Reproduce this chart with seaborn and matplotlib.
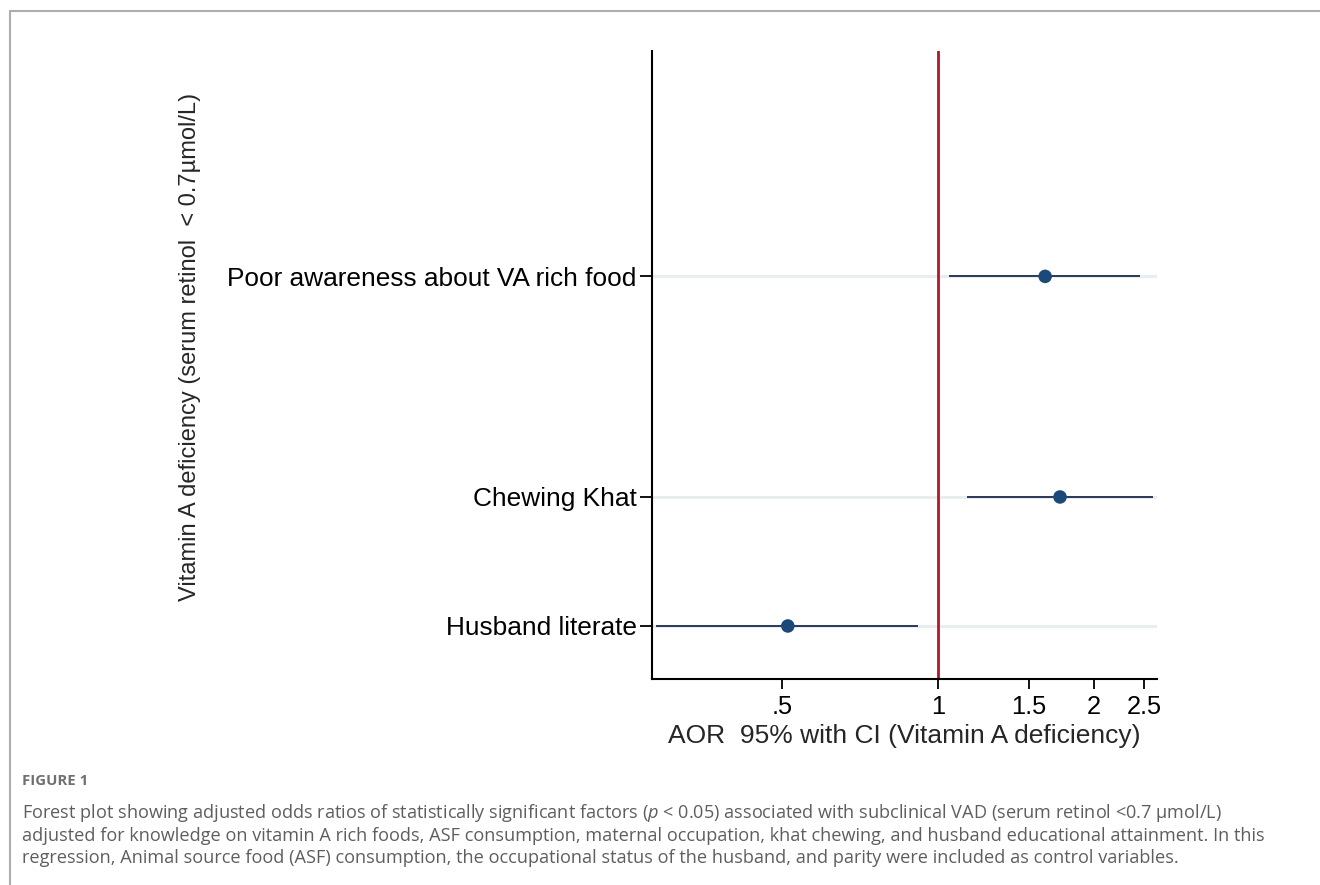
import numpy as np
import pandas as pd
import matplotlib
matplotlib.use("Agg")
import matplotlib.pyplot as plt
from matplotlib.lines import Line2D
from matplotlib.ticker import FixedLocator, FixedFormatter, NullLocator
import seaborn as sns

# ---- data ----
factors = ["Poor awareness about VA rich food", "Chewing Khat", "Husband literate"]
aor = [1.61, 1.72, 0.513]
ci_low = [1.05, 1.14, 0.286]
ci_high = [2.45, 2.60, 0.915]
row_pos = [3.71, 2.0, 1.0]
xticks = [0.5, 1, 1.5, 2, 2.5]
xtick_labels = [".5", "1", "1.5", "2", "2.5"]

df = pd.DataFrame(dict(factor=factors, aor=aor, lo=ci_low, hi=ci_high, pos=row_pos))

sns.set_style("white")
plt.rcParams["font.family"] = ["Liberation Sans", "DejaVu Sans"]
plt.rcParams["mathtext.fontset"] = "custom"
plt.rcParams["mathtext.it"] = "Open Sans:italic"
plt.rcParams["mathtext.rm"] = "Open Sans"

W, H = 1320, 885
fig = plt.figure(figsize=(W / 100, H / 100), dpi=100)
ax = fig.add_axes([652 / W, 1 - 679 / H, 505 / W, 628 / H])
ax.set_xscale("log")
ax.set_xlim(0.2805, 2.647)
ax.set_ylim(0.589, 5.457)

for p in df["pos"]:
    ax.axhline(p, color="#e8eef0", lw=2.2, zorder=0)
ax.axvline(1, color="#b5142b", lw=2, zorder=1)
ax.hlines(df["pos"], df["lo"], df["hi"], color="#1c2b4e", lw=1.3, zorder=2)
sns.scatterplot(data=df, x="aor", y="pos", ax=ax, s=95, color="#1b4a7a",
                edgecolor="none", zorder=3, legend=False)

ax.xaxis.set_major_locator(FixedLocator(xticks))
ax.xaxis.set_major_formatter(FixedFormatter(xtick_labels))
ax.xaxis.set_minor_locator(NullLocator())
ax.set_yticks(df["pos"])
ax.set_yticklabels(df["factor"])

for s in ["top", "right"]:
    ax.spines[s].set_visible(False)
for s in ["left", "bottom"]:
    ax.spines[s].set_color("black")
    ax.spines[s].set_linewidth(1.5)

ax.tick_params(axis="y", left=True, length=9, width=1.3, pad=2, labelsize=18.9,
               color="black", labelcolor="black")
ax.tick_params(axis="x", bottom=True, length=7.5, width=1.3, pad=4, labelsize=18.3,
               color="black", labelcolor="black")

ax.set_xlabel("AOR  95% with CI (Vitamin A deficiency)", fontsize=19, labelpad=3.5)
ax.set_ylabel("Vitamin A deficiency (serum retinol  < 0.7µmol/L)", fontsize=17)
ax.yaxis.set_label_coords(-0.893, 0.529)

# figure frame (journal box)
fig.add_artist(Line2D([10 / W, 1], [1 - 11 / H, 1 - 11 / H], color="#adadad", lw=1.5))
fig.add_artist(Line2D([10 / W, 10 / W], [0, 1 - 11 / H], color="#adadad", lw=1.5))

# caption
fig.text(22 / W, 1 - 781 / H, "FIGURE 1", fontsize=10.8, color="#707070",
         fontweight="bold", family=["Open Sans", "DejaVu Sans"], va="center")
cap_lines = [
    "Forest plot showing adjusted odds ratios of statistically significant factors ($p$ < 0.05) associated with subclinical VAD (serum retinol <0.7 μmol/L)",
    "adjusted for knowledge on vitamin A rich foods, ASF consumption, maternal occupation, khat chewing, and husband educational attainment. In this",
    "regression, Animal source food (ASF) consumption, the occupational status of the husband, and parity were included as control variables.",
]
for yy, t in zip([813, 836, 858], cap_lines):
    fig.text(22 / W, 1 - yy / H, t, fontsize=13.1, color="#5e5e5e",
             family=["Open Sans", "DejaVu Sans"], va="center")

fig.savefig("out.png", dpi=100, facecolor="white")
